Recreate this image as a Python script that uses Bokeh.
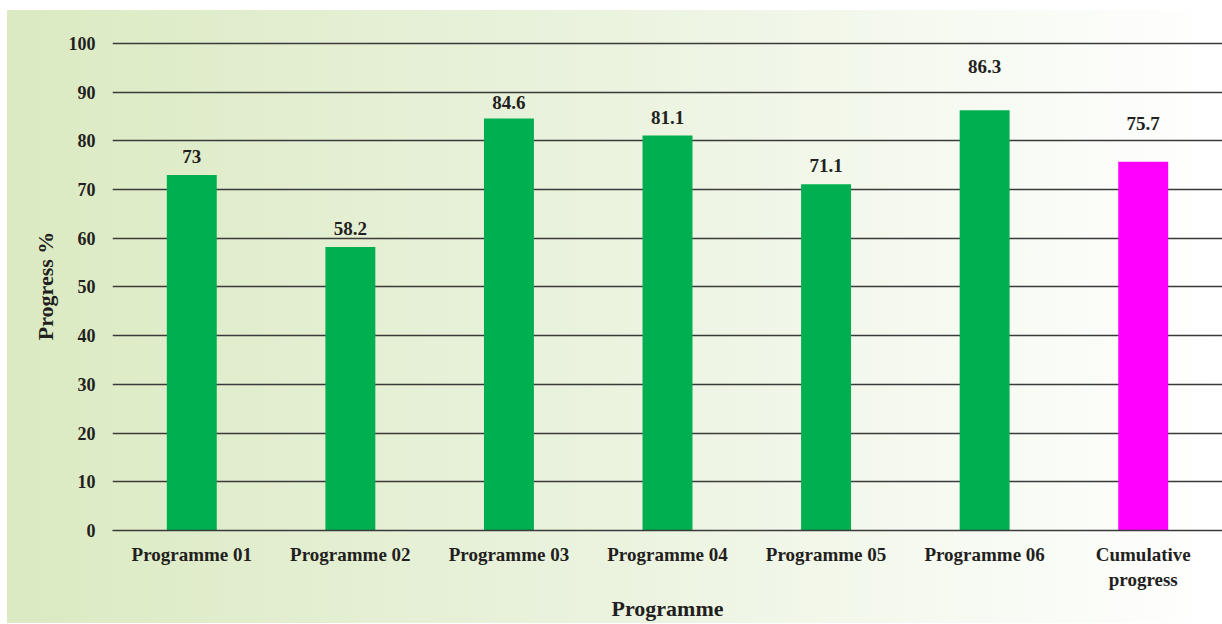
from bokeh.plotting import figure
from bokeh.models import ColumnDataSource, FixedTicker
from bokeh.embed import file_html
from bokeh.resources import INLINE
from bokeh.core.properties import value

categories = ["Programme 01", "Programme 02", "Programme 03", "Programme 04",
              "Programme 05", "Programme 06", "Cumulative\nprogress"]
progress = [73, 58.2, 84.6, 81.1, 71.1, 86.3, 75.7]
value_labels = ["73", "58.2", "84.6", "81.1", "71.1", "86.3", "75.7"]
bar_colors = ["#00B050"] * 6 + ["#FF00FF"]
label_lift_px = [18, 19, 16, 18, 19, 44, 38]
y_ticks = list(range(0, 101, 10))

src = ColumnDataSource(dict(
    cat=categories, val=progress, lab=value_labels, col=bar_colors,
    off=[-v for v in label_lift_px],
))

FONT = "Liberation Serif"
TXT = "#231F20"

p = figure(x_range=categories, y_range=(0, 100.4), width=1215, height=613,
           output_backend="svg", toolbar_location=None,
           min_border_left=105, min_border_right=0, min_border_top=31,
           min_border_bottom=91)
p.styles = {"background": "linear-gradient(to right, #DBEAC2 0%, #E9F2DC 45%, #FFFFFF 100%)",
            "margin-left": "7px", "margin-top": "10px"}
p.background_fill_alpha = 0
p.border_fill_alpha = 0
p.outline_line_color = None

p.vbar(x="cat", top="val", width=0.315, fill_color="col", line_color=None, source=src)
p.text(x="cat", y="val", text="lab", y_offset="off", source=src,
       text_align="center", text_baseline="middle",
       text_font=value(FONT), text_font_style="bold", text_font_size="19px",
       text_color=TXT)

p.ygrid.grid_line_color = "#3A3A3A"
p.ygrid.grid_line_width = 1.4
p.ygrid.ticker = FixedTicker(ticks=y_ticks)
p.xgrid.grid_line_color = None

p.yaxis.ticker = FixedTicker(ticks=y_ticks)
p.yaxis.axis_line_color = None
p.yaxis.major_tick_line_color = None
p.yaxis.minor_tick_line_color = None
p.yaxis.major_tick_out = 0
p.yaxis.major_label_standoff = 17
p.yaxis.axis_label = "Progress %"
p.yaxis.axis_label_standoff = 8

p.xaxis.axis_line_color = "#3A3A3A"
p.xaxis.axis_line_width = 1.4
p.xaxis.major_tick_line_color = None
p.xaxis.major_tick_out = 0
p.xaxis.major_label_standoff = 13
p.xaxis.axis_label = "Programme"
p.xaxis.axis_label_standoff = 3

for ax in (p.xaxis, p.yaxis):
    ax.major_label_text_font = FONT
    ax.major_label_text_font_style = "bold"
    ax.major_label_text_font_size = "18px"
    ax.major_label_text_color = TXT
    ax.axis_label_text_font = FONT
    ax.axis_label_text_font_style = "bold"
    ax.axis_label_text_font_size = "22px"
    ax.axis_label_text_color = TXT
p.xaxis.major_label_text_font_size = "19px"

p.x_range.range_padding = 0

open("out.html", "w").write(file_html(p, INLINE))
